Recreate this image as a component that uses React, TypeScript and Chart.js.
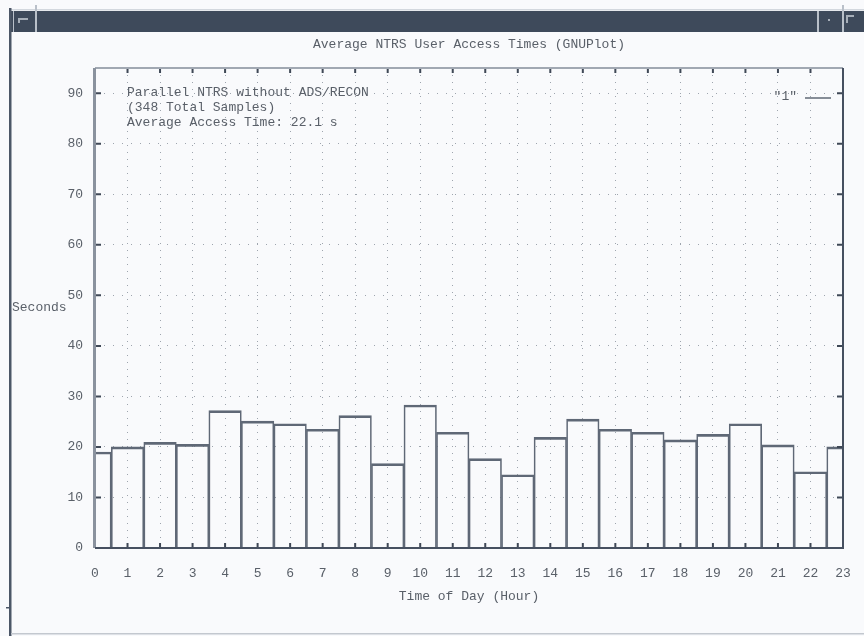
import React, { useEffect, useRef } from "react";
import { Chart, registerables } from "chart.js";

Chart.register(...registerables);

const hours = [0, 1, 2, 3, 4, 5, 6, 7, 8, 9, 10, 11, 12, 13, 14, 15, 16, 17, 18, 19, 20, 21, 22, 23];
const accessTimes = [19.0, 20.0, 20.9, 20.5, 27.2, 25.1, 24.6, 23.5, 26.2, 16.7, 28.3, 22.9, 17.7, 14.5, 21.9, 25.5, 23.5, 22.9, 21.4, 22.5, 24.6, 20.4, 15.1, 20.0];
const yTickValues = [0, 10, 20, 30, 40, 50, 60, 70, 80, 90];
const xTickValues = hours;
const chartTitle = "Average NTRS User Access Times (GNUPlot)";
const xTitle = "Time of Day (Hour)";
const yTitle = "Seconds";
const noteLines = ["Parallel NTRS without ADS/RECON", "(348 Total Samples)", "Average Access Time: 22.1 s"];
const keyLabel = '"1"';

const FONT = '"Liberation Mono", "DejaVu Sans Mono", monospace';
const TEXT = "#5a6069";

const gnuplotPlugin = {
  id: "gnuplotDecor",
  beforeDraw(chart: any) {
    const { ctx, width, height } = chart;
    ctx.save();
    ctx.fillStyle = "#f9fafc";
    ctx.fillRect(0, 0, width, height);
    // window title bar
    ctx.fillStyle = "#3e4a5b";
    ctx.fillRect(11, 11, width - 11, 21);
    ctx.fillStyle = "#d3d8de";
    ctx.fillRect(11, 9, width - 11, 1.5);
    ctx.fillStyle = "#b9c0c9";
    ctx.fillRect(13, 11, 1, 21);
    ctx.fillRect(35, 5, 2, 27);
    ctx.fillRect(817, 11, 2, 21);
    ctx.fillRect(842, 5, 2, 27);
    ctx.fillStyle = "#a7afb9";
    ctx.fillRect(18, 18, 10, 2);
    ctx.fillRect(18, 18, 2, 5);
    ctx.fillRect(828, 19, 2, 2);
    ctx.fillRect(846, 15, 8, 2);
    ctx.fillRect(846, 15, 2, 8);
    // left window border
    ctx.fillStyle = "#4c5767";
    ctx.fillRect(9, 8, 2.5, height - 8);
    ctx.fillRect(6, 607, 3, 1.5);
    // bottom border
    ctx.fillStyle = "#c3c8cf";
    ctx.fillRect(11, height - 3, width - 11, 1.5);
    ctx.restore();
  },
  afterDatasetsDraw(chart: any) {
    const { ctx, chartArea } = chart;
    const { left, right, top, bottom } = chartArea;
    const xs = chart.scales.x;
    const ys = chart.scales.y;
    ctx.save();
    // inward ticks
    ctx.strokeStyle = "#3f4856";
    ctx.lineWidth = 2;
    ctx.beginPath();
    xTickValues.forEach((v) => {
      const px = xs.getPixelForValue(v);
      ctx.moveTo(px, bottom);
      ctx.lineTo(px, bottom - 5);
      ctx.moveTo(px, top);
      ctx.lineTo(px, top + 5);
    });
    yTickValues.forEach((v) => {
      const py = ys.getPixelForValue(v);
      ctx.moveTo(left, py);
      ctx.lineTo(left + 6, py);
      ctx.moveTo(right, py);
      ctx.lineTo(right - 6, py);
    });
    ctx.stroke();
    // plot frame
    ctx.lineWidth = 2;
    ctx.strokeStyle = "#a1a8b2";
    ctx.beginPath();
    ctx.moveTo(left, top);
    ctx.lineTo(right, top);
    ctx.stroke();
    ctx.lineWidth = 3;
    ctx.strokeStyle = "#8a929e";
    ctx.beginPath();
    ctx.moveTo(left - 0.5, top);
    ctx.lineTo(left - 0.5, bottom);
    ctx.stroke();
    ctx.lineWidth = 2;
    ctx.strokeStyle = "#465060";
    ctx.beginPath();
    ctx.moveTo(left, bottom);
    ctx.lineTo(right, bottom);
    ctx.lineTo(right, top);
    ctx.stroke();

    // texts
    ctx.fillStyle = TEXT;
    ctx.font = `13px ${FONT}`;
    ctx.textBaseline = "middle";
    ctx.textAlign = "center";
    const cx = (left + right) / 2;
    ctx.fillText(chartTitle, cx, 45);
    ctx.fillText(xTitle, cx, 597);
    ctx.textAlign = "left";
    ctx.fillText(yTitle, 12, 308);
    noteLines.forEach((line, i) => {
      ctx.fillText(line, 127, 93 + i * 15);
    });
    // key
    ctx.textAlign = "right";
    ctx.fillText(keyLabel, 797, 97);
    ctx.strokeStyle = "#5f6876";
    ctx.lineWidth = 1.5;
    ctx.beginPath();
    ctx.moveTo(805, 98);
    ctx.lineTo(831, 98);
    ctx.stroke();
    ctx.restore();
  },
};

export default function App() {
  const canvasRef = useRef<HTMLCanvasElement | null>(null);

  useEffect(() => {
    if (!canvasRef.current) return;
    const chart = new Chart(canvasRef.current, {
      type: "bar",
      data: {
        datasets: [
          {
            label: keyLabel,
            data: hours.map((h, i) => ({ x: h, y: accessTimes[i] })),
            backgroundColor: "rgba(0,0,0,0)",
            borderColor: "#5f6876",
            borderWidth: { top: 2, left: 1, right: 1, bottom: 0 },
            borderSkipped: false,
            barPercentage: 1,
            categoryPercentage: 1,
            clip: 0,
          } as any,
        ],
      },
      options: {
        animation: false,
        responsive: false,
        maintainAspectRatio: false,
        layout: { padding: { top: 68, right: 21, left: 0, bottom: 0 } },
        plugins: {
          legend: { display: false },
          title: { display: false },
          tooltip: { enabled: false },
        },
        scales: {
          x: {
            type: "linear",
            min: 0,
            max: 23,
            offset: false,
            afterBuildTicks: (scale: any) => {
              scale.ticks = xTickValues.map((v) => ({ value: v }));
            },
            afterFit: (scale: any) => {
              scale.height = 88;
              scale.paddingLeft = 0;
              scale.paddingRight = 0;
            },
            ticks: {
              padding: 18,
              color: TEXT,
              font: { family: FONT, size: 13 },
              maxRotation: 0,
              autoSkip: false,
            },
            grid: {
              offset: false,
              drawTicks: false,
              color: "#9ea5ae",
              lineWidth: 1,
            },
            border: { display: false, dash: [1, 6] },
          },
          y: {
            type: "linear",
            min: 0,
            max: 95,
            afterBuildTicks: (scale: any) => {
              scale.ticks = yTickValues.map((v) => ({ value: v }));
            },
            afterFit: (scale: any) => {
              scale.width = 95;
              scale.paddingTop = 0;
              scale.paddingBottom = 0;
            },
            ticks: {
              padding: 12,
              color: TEXT,
              font: { family: FONT, size: 13 },
            },
            grid: {
              drawTicks: false,
              color: "#9ea5ae",
              lineWidth: 1,
            },
            border: { display: false, dash: [1, 8] },
          },
        },
      } as any,
      plugins: [gnuplotPlugin],
    });
    return () => chart.destroy();
  }, []);

  return (
    <div style={{ position: "fixed", left: 0, top: 0, width: 864, height: 636 }}>
      <canvas ref={canvasRef} width={864} height={636} style={{ width: 864, height: 636, display: "block" }} />
    </div>
  );
}
